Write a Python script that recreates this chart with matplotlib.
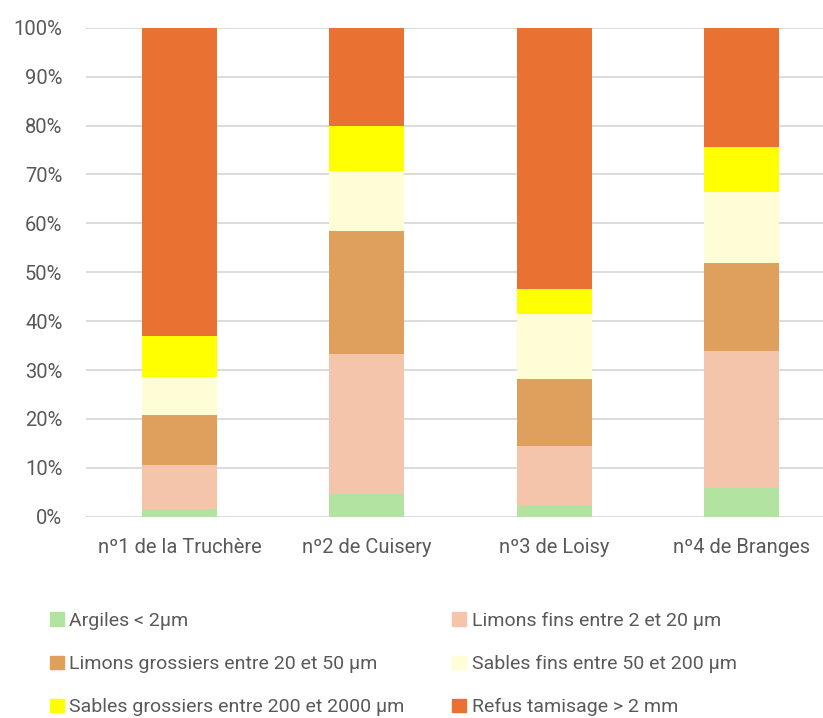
import matplotlib
matplotlib.use("Agg")
from matplotlib import pyplot as plt
from matplotlib.patches import Patch
from matplotlib.ticker import PercentFormatter
import numpy as np

plt.rcParams['font.family'] = ['Roboto', 'DejaVu Sans']

sites = ["nº1 de la Truchère", "nº2 de Cuisery", "nº3 de Loisy", "nº4 de Branges"]

# part de chaque fraction (%)
argiles = [1.5, 4.7, 2.2, 5.9]
limons_fins = [9.1, 28.5, 12.3, 27.9]
limons_grossiers = [10.2, 25.2, 13.6, 18.0]
sables_fins = [7.8, 12.2, 13.4, 14.7]
sables_grossiers = [8.3, 9.4, 5.0, 9.1]
refus = [63.1, 20.0, 53.5, 24.4]

labels = ["Argiles < 2µm", "Limons fins entre 2 et 20 µm",
          "Limons grossiers entre 20 et 50 µm", "Sables fins entre 50 et 200 µm",
          "Sables grossiers entre 200 et 2000 µm", "Refus tamisage > 2 mm"]
colors = ["#B3E3A0", "#F5C5AB", "#DFA05D", "#FFFDD6", "#FFFF00", "#E97132"]

series = [argiles, limons_fins, limons_grossiers, sables_fins, sables_grossiers, refus]

fig = plt.figure(figsize=(8.23, 7.18), dpi=100)
ax = fig.add_axes([86/823, (718-516.7)/718, (823-86)/823, 489/718])

x = np.arange(len(sites))
bottom = np.zeros(len(sites))
for vals, col in zip(series, colors):
    ax.bar(x, vals, width=0.4, bottom=bottom, color=col, zorder=3)
    bottom += np.array(vals)

ax.set_ylim(0, 100)
ax.set_xlim(-0.5, 3.436)
ax.set_yticks(np.arange(0, 101, 10))
ax.yaxis.set_major_formatter(PercentFormatter(decimals=0))
ax.set_xticks(x)
ax.set_xticklabels(sites)
ax.grid(axis="y", color="#D9D9D9", linewidth=1.3, zorder=0)
for s in ax.spines.values():
    s.set_visible(False)
ax.tick_params(axis="both", length=0, colors="#595959", labelsize=14.5)
ax.tick_params(axis="y", pad=17)
ax.tick_params(axis="x", pad=15)

# legende sur 3 lignes, remplie ligne par ligne comme dans Excel
handles = [Patch(color=c) for c in colors]
order = [0, 2, 4, 1, 3, 5]
fig.legend([handles[i] for i in order], [labels[i] for i in order],
           ncol=2, loc="upper left", bbox_to_anchor=(50/823, 1-612/718),
           frameon=False, fontsize=14, labelcolor="#595959",
           handlelength=0.7, handleheight=0.7, handletextpad=0.3,
           labelspacing=1.29, columnspacing=2.45, borderaxespad=0, borderpad=0)

fig.savefig("out.png", dpi=100)
